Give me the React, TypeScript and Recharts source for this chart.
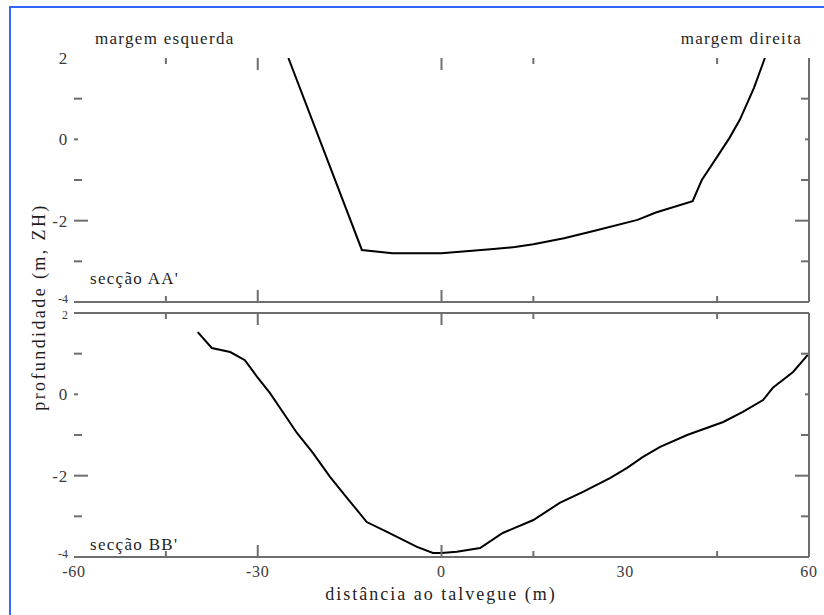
import React from "react";
import { LineChart, Line, XAxis, YAxis } from "recharts";

// secção AA' : distância ao talvegue (m) vs profundidade (m, ZH)
const aaDist = [-25, -13, -8, 0, 8, 12, 15, 20, 25, 32, 35, 41, 42.5, 44.7, 47, 48.7, 51, 52.8];
const aaDepth = [2.0, -2.72, -2.8, -2.8, -2.7, -2.65, -2.58, -2.43, -2.25, -1.98, -1.8, -1.52, -1.0, -0.5, 0.03, 0.48, 1.26, 2.0];

// secção BB'
const bbDist = [
  -39.8, -37.5, -34.5, -32.1, -30.1, -28, -25.8, -23.6, -21, -18.2, -15.4, -12.2, -8.9, -4.0, -1.4, 0, 2.5, 6.3,
  10, 15, 19.3, 23.1, 27.5, 30.3, 32.9, 35.7, 40.1, 46, 49.2, 52.5, 54.1, 57.4, 59.8,
];
const bbDepth = [
  1.53, 1.14, 1.04, 0.84, 0.43, 0.03, -0.46, -0.95, -1.44, -2.03, -2.55, -3.14, -3.38, -3.75, -3.9, -3.9, -3.87, -3.78,
  -3.41, -3.09, -2.67, -2.4, -2.06, -1.81, -1.54, -1.29, -1.0, -0.68, -0.43, -0.14, 0.16, 0.55, 0.97,
];

const xTicks = [-60, -45, -30, 0, 15, 30, 45, 60];
const xTickMarks = [-45, -30, 0, 15, 45];
const xTickLabels = [-60, -30, 0, 30, 60];
const yTicks = [-4, -3, -2, -1, 0, 1, 2];
const yTickLabels = [-4, -2, 0, 2];

const aaData = aaDist.map((x, i) => ({ x, y: aaDepth[i] }));
const bbData = bbDist.map((x, i) => ({ x, y: bbDepth[i] }));

const FONT = "'Liberation Serif', 'Times New Roman', serif";
const AXIS = "#6e6e6e";
const TEXT = "#1e1e1e";
const TICK_TEXT = "#3a3a3a";

function xMarkLen(v: number) {
  return v === -30 || v === 0 ? 12 : 6;
}
function yMarkLen(v: number) {
  if (v === -2) return 14;
  if (v === 0) return 4;
  return 8;
}

// eslint-disable-next-line @typescript-eslint/no-explicit-any
function XTick(props: any) {
  const { x, y, payload, side, showLabel } = props;
  const v = payload.value as number;
  const dir = side === "top" ? 1 : -1;
  return (
    <g>
      {xTickMarks.includes(v) && (
        <line x1={x} x2={x} y1={y} y2={y + dir * xMarkLen(v)} stroke={AXIS} strokeWidth={2} />
      )}
      {showLabel && xTickLabels.includes(v) && (
        <text x={x} y={y + 20} textAnchor="middle" fontFamily={FONT} fontSize={16} fill={TICK_TEXT} letterSpacing={0.8}>
          {String(v)}
        </text>
      )}
    </g>
  );
}

// eslint-disable-next-line @typescript-eslint/no-explicit-any
function YTick(props: any) {
  const { x, y, payload, side, small } = props;
  const v = payload.value as number;
  const dir = side === "left" ? 1 : -1;
  const isSmall = (small as number[]).includes(v);
  return (
    <g>
      {v > -4 && v < 2 && (
        <line x1={x} x2={x + dir * yMarkLen(v)} y1={y} y2={y} stroke={AXIS} strokeWidth={2} />
      )}
      {side === "left" && yTickLabels.includes(v) && (
        <text
          x={x - 6}
          y={y + (isSmall ? (v < 0 ? -3 : 2) : 0)}
          dy="0.35em"
          textAnchor="end"
          fontFamily={FONT}
          fontSize={isSmall ? 12 : 17}
          fill={TICK_TEXT}
          letterSpacing={isSmall ? 0 : 0.8}
        >
          {String(v)}
        </text>
      )}
    </g>
  );
}

function Panel({
  data,
  height,
  topAxisHeight,
  bottomAxisHeight,
  topLine,
  bottomLabels,
  smallLabels,
}: {
  data: { x: number; y: number }[];
  height: number;
  topAxisHeight: number;
  bottomAxisHeight: number;
  topLine: boolean;
  bottomLabels: boolean;
  smallLabels: number[];
}) {
  return (
    <LineChart width={824} height={height} data={data} margin={{ top: 0, right: 0, bottom: 0, left: 0 }}>
      <XAxis
        xAxisId="bottom"
        dataKey="x"
        type="number"
        domain={[-60, 60]}
        ticks={xTicks}
        interval={0}
        allowDataOverflow
        orientation="bottom"
        height={bottomAxisHeight}
        tickSize={0}
        tickMargin={0}
        tickLine={false}
        axisLine={{ stroke: AXIS, strokeWidth: 2 }}
        tick={<XTick side="bottom" showLabel={bottomLabels} />}
      />
      <XAxis
        xAxisId="top"
        dataKey="x"
        type="number"
        domain={[-60, 60]}
        ticks={xTicks}
        interval={0}
        allowDataOverflow
        orientation="top"
        height={topAxisHeight}
        tickSize={0}
        tickMargin={0}
        tickLine={false}
        axisLine={topLine ? { stroke: AXIS, strokeWidth: 2 } : false}
        tick={<XTick side="top" showLabel={false} />}
      />
      <YAxis
        yAxisId="left"
        type="number"
        domain={[-4, 2]}
        ticks={yTicks}
        interval={0}
        allowDataOverflow
        orientation="left"
        width={74}
        tickSize={0}
        tickMargin={0}
        tickLine={false}
        axisLine={false}
        tick={<YTick side="left" small={smallLabels} />}
      />
      <YAxis
        yAxisId="right"
        type="number"
        domain={[-4, 2]}
        ticks={yTicks}
        interval={0}
        allowDataOverflow
        orientation="right"
        width={15}
        tickSize={0}
        tickMargin={0}
        tickLine={false}
        axisLine={{ stroke: AXIS, strokeWidth: 2 }}
        tick={<YTick side="right" small={smallLabels} />}
      />
      <Line
        xAxisId="bottom"
        yAxisId="left"
        type="linear"
        dataKey="y"
        stroke="#000"
        strokeWidth={2}
        dot={false}
        activeDot={false}
        isAnimationActive={false}
      />
    </LineChart>
  );
}

export default function App() {
  return (
    <div style={{ position: "absolute", left: 0, top: 0, width: 824, height: 615, overflow: "hidden", background: "#fff" }}>
      <div
        style={{
          position: "absolute",
          left: 9,
          top: 6,
          width: 830,
          height: 640,
          border: "2px solid #3366ff",
          boxSizing: "border-box",
        }}
      />
      <div style={{ position: "absolute", left: 0, top: 0 }}>
        <Panel
          data={aaData}
          height={320}
          topAxisHeight={58}
          bottomAxisHeight={18}
          topLine={false}
          bottomLabels={false}
          smallLabels={[-4]}
        />
      </div>
      <div style={{ position: "absolute", left: 0, top: 300 }}>
        <Panel
          data={bbData}
          height={315}
          topAxisHeight={13}
          bottomAxisHeight={58}
          topLine={true}
          bottomLabels={true}
          smallLabels={[2, -4]}
        />
      </div>
      <svg
        width={824}
        height={615}
        style={{ position: "absolute", left: 0, top: 0, pointerEvents: "none" }}
        fontFamily={FONT}
      >
        <text x={95} y={44} fontSize={17} fill={TEXT} letterSpacing={1.3}>
          margem esquerda
        </text>
        <text x={802} y={44} fontSize={17} fill={TEXT} letterSpacing={1.3} textAnchor="end">
          margem direita
        </text>
        <text x={90} y={284} fontSize={17} fill={TEXT} letterSpacing={1.3}>
          secção AA'
        </text>
        <text x={90} y={550} fontSize={17} fill={TEXT} letterSpacing={1.3}>
          secção BB'
        </text>
        <text x={441} y={600} fontSize={18} fill={TEXT} letterSpacing={2} textAnchor="middle">
          distância ao talvegue (m)
        </text>
        <text
          x={45}
          y={307}
          fontSize={18}
          fill={TEXT}
          letterSpacing={2.4}
          textAnchor="middle"
          transform="rotate(-90, 45, 307)"
        >
          profundidade (m, ZH)
        </text>
      </svg>
    </div>
  );
}
